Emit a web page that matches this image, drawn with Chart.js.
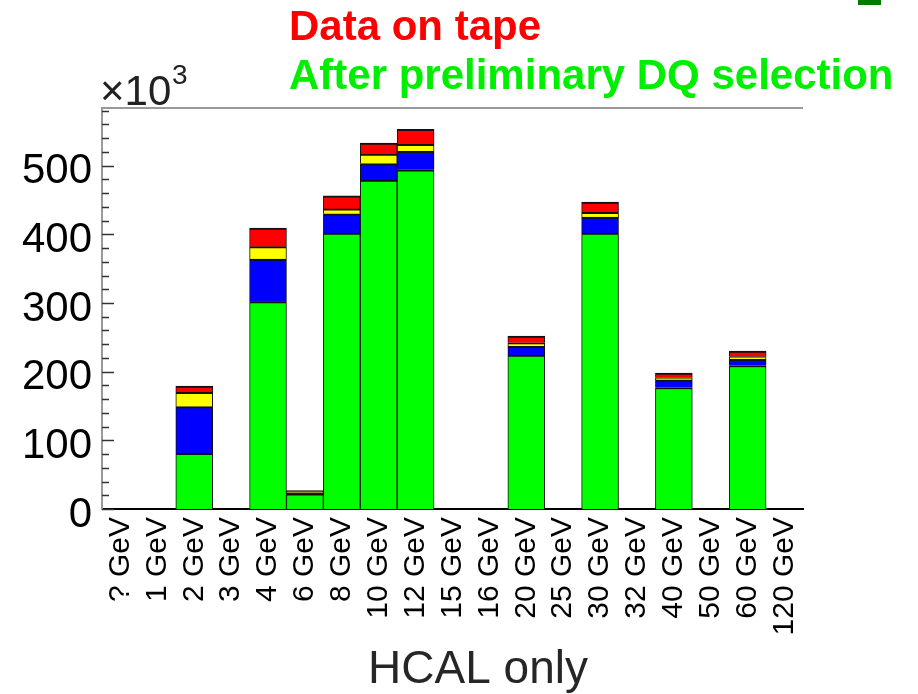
<!DOCTYPE html>
<html>
<head>
<meta charset="utf-8">
<title>HCAL only</title>
<script src="https://cdn.jsdelivr.net/npm/chart.js@4/dist/chart.umd.min.js"></script>
<style>
  html, body { margin: 0; padding: 0; background: #fff; }
  #wrap { width: 918px; height: 694px; position: relative; }
</style>
</head>
<body>
<div id="wrap"><canvas id="chart"></canvas></div>
<script>
// beam energies (x categories)
const energies = ['? GeV', '1 GeV', '2 GeV', '3 GeV', '4 GeV', '6 GeV', '8 GeV', '10 GeV', '12 GeV',
  '15 GeV', '16 GeV', '20 GeV', '25 GeV', '30 GeV', '32 GeV', '40 GeV', '50 GeV', '60 GeV', '120 GeV'];

// events x10^3, stacked bottom to top
const afterDQ  = [0, 0, 81, 0, 302, 22, 402, 479, 494, 0, 0, 224, 0, 402, 0, 177, 0, 209, 0];
const blueSeg  = [0, 0, 68, 0,  62,  1,  28,  24,  27, 0, 0,  13, 0,  23, 0,  11, 0,   9, 0];
const yellowSeg= [0, 0, 21, 0,  18,  1,   7,  14,  10, 0, 0,   5, 0,   7, 0,   3, 0,   4, 0];
const onTape   = [0, 0,  9, 0,  27,  3,  19,  16,  22, 0, 0,  10, 0,  15, 0,   7, 0,   8, 0];

const yTicks = [0, 100, 200, 300, 400, 500];
const Y_MAX = 584;
const xTitle = 'HCAL only';

// frame, minor ticks, x10^3, axis title and the two coloured headings
const decorPlugin = {
  id: 'decor',
  afterDraw(chart) {
    const { ctx, chartArea: a, scales: { y } } = chart;
    ctx.save();
    // top frame line
    ctx.strokeStyle = '#999';
    ctx.lineWidth = 2;
    ctx.beginPath();
    ctx.moveTo(a.left, a.top);
    ctx.lineTo(a.right, a.top);
    ctx.stroke();
    // y ticks pointing inwards, minor every 20
    ctx.strokeStyle = '#333';
    ctx.lineWidth = 1.5;
    for (let v = 0; v <= Y_MAX; v += 20) {
      const py = Math.round(y.getPixelForValue(v)) + 0.5;
      const len = v % 100 === 0 ? 12 : 7;
      ctx.beginPath();
      ctx.moveTo(a.left, py);
      ctx.lineTo(a.left + len, py);
      ctx.stroke();
    }
    // exponent label
    ctx.fillStyle = '#222';
    ctx.textBaseline = 'alphabetic';
    ctx.textAlign = 'left';
    ctx.font = '42px "Liberation Sans", Arial, sans-serif';
    ctx.fillText('\u00d710', 100, 105);
    ctx.font = '28px "Liberation Sans", Arial, sans-serif';
    ctx.fillText('3', 172, 84);
    // x axis title, sits right of the plot centre in the original
    ctx.textAlign = 'center';
    ctx.fillStyle = '#262626';
    ctx.font = '46px "Liberation Sans", Arial, sans-serif';
    ctx.fillText(xTitle, 478, 683);
    // headings
    ctx.textAlign = 'left';
    ctx.font = 'bold 42px "Liberation Sans", Arial, sans-serif';
    ctx.fillStyle = '#ff0000';
    ctx.fillText('Data on tape', 289, 40);
    ctx.fillStyle = '#00ee00';
    ctx.fillText('After preliminary DQ selection', 289, 89);
    // small dark green mark top right
    ctx.fillStyle = '#007a00';
    ctx.fillRect(858, 0, 23, 5);
    ctx.restore();
  }
};

function seg(label, data, color) {
  return {
    label, data,
    backgroundColor: color,
    borderColor: '#111',
    borderWidth: { top: 2, left: 1, right: 1, bottom: 0 },
    borderSkipped: false,
    barPercentage: 1,
    categoryPercentage: 1
  };
}

new Chart(document.getElementById('chart'), {
  type: 'bar',
  data: {
    labels: energies,
    datasets: [
      seg('After preliminary DQ selection', afterDQ, '#00ff00'),
      seg('blue', blueSeg, '#0000ff'),
      seg('yellow', yellowSeg, '#ffff00'),
      seg('Data on tape', onTape, '#ff0000')
    ]
  },
  options: {
    responsive: true,
    maintainAspectRatio: false,
    animation: false,
    layout: { padding: { top: 108, right: 115, left: 0, bottom: 0 } },
    plugins: { legend: { display: false }, tooltip: { enabled: false } },
    scales: {
      x: {
        stacked: true,
        grid: { display: false, drawTicks: false },
        border: { color: '#000', width: 2 },
        ticks: {
          autoSkip: false,
          minRotation: 90, maxRotation: 90,
          padding: 8,
          color: '#000',
          font: { family: '"Liberation Sans", Arial, sans-serif', size: 30 }
        },
        afterFit(s) { s.height = 185; }
      },
      y: {
        stacked: true,
        min: 0, max: Y_MAX,
        grid: { display: false, drawTicks: false },
        border: { color: '#999', width: 2 },
        afterBuildTicks(s) { s.ticks = yTicks.map(v => ({ value: v })); },
        ticks: {
          padding: 10,
          labelOffset: 6,
          color: '#000',
          font: { family: '"Liberation Sans", Arial, sans-serif', size: 42 }
        },
        afterFit(s) { s.width = 102; }
      }
    }
  },
  plugins: [decorPlugin]
});
</script>
</body>
</html>
